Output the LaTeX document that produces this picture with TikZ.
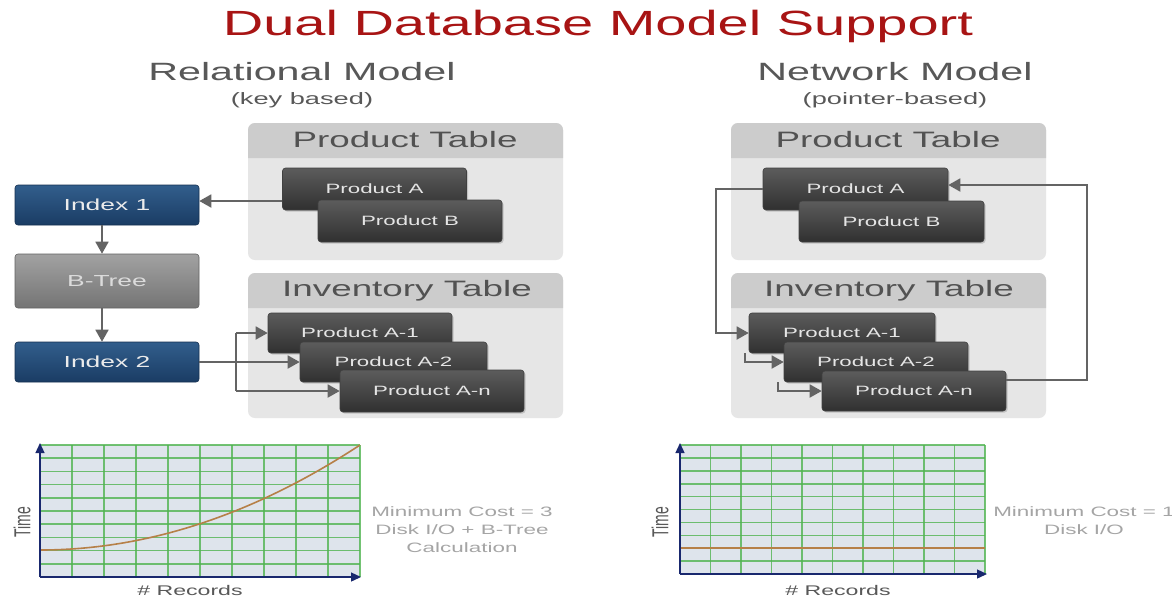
\documentclass[tikz,border=0pt]{standalone}
\usepackage{fontspec}
\setmainfont{Liberation Sans}[FakeStretch=1.65]
\newfontfamily\plainsans{Liberation Sans}
\usepackage{graphicx}
\usetikzlibrary{arrows.meta,shadows,calc}

\definecolor{titlered}{RGB}{168,20,20}
\definecolor{subgray}{RGB}{88,88,88}
\definecolor{hdrgray}{RGB}{204,204,204}
\definecolor{panelgray}{RGB}{230,230,230}
\definecolor{hdrtext}{RGB}{82,82,82}
\definecolor{boxtop}{RGB}{92,92,92}
\definecolor{boxbot}{RGB}{48,48,48}
\definecolor{idxtop}{RGB}{50,94,140}
\definecolor{idxbot}{RGB}{26,60,100}
\definecolor{btop}{RGB}{162,162,162}
\definecolor{bbot}{RGB}{116,116,116}
\definecolor{wire}{RGB}{100,100,100}
\definecolor{chartbg}{RGB}{222,228,236}
\definecolor{gridgreen}{RGB}{80,180,80}
\definecolor{axisnavy}{RGB}{25,40,110}
\definecolor{curvebrown}{RGB}{182,128,72}
\definecolor{notegray}{RGB}{165,165,165}

\newcommand\fsz[1]{\fontsize{#1}{#1}\selectfont}

\tikzset{
  record/.style={rectangle, rounded corners=3pt, minimum width=184pt,
    minimum height=40pt, inner sep=0pt, top color=boxtop, bottom color=boxbot,
    draw=black!75, line width=0.6pt, text=white!90!black, font=\fsz{13.5},
    drop shadow={opacity=0.35, shadow xshift=1.5pt, shadow yshift=-1.5pt}},
  indexbox/.style={rectangle, rounded corners=3pt, minimum width=184pt,
    minimum height=40pt, inner sep=0pt, top color=idxtop, bottom color=idxbot,
    draw=idxbot!80!black, line width=0.6pt, text=white!92!black, font=\fsz{16}},
  treebox/.style={indexbox, minimum height=54pt, top color=btop, bottom color=bbot,
    draw=bbot!85!black, text=white!86!black},
  hdrlabel/.style={text=hdrtext, font=\fsz{22.3}, inner sep=0pt},
  conn/.style={draw=wire, line width=1.8pt},
  arr/.style={conn, -{Triangle[length=12pt,width=13pt]}},
  gridline/.style={draw=gridgreen, line width=1.6pt, opacity=0.8},
  axisline/.style={draw=axisnavy, line width=1.3pt, -{Triangle[length=10pt,width=9pt]}},
  costcurve/.style={draw=curvebrown, line width=1.6pt},
  note/.style={text=notegray, font=\fsz{13.6}, align=center, inner sep=0pt},
  axislabel/.style={text=subgray, font=\fsz{14}, inner sep=0pt},
}

\begin{document}
\begin{tikzpicture}[x=1pt, y=-1pt]
\useasboundingbox (0,0) rectangle (1172,598);
\clip (0,0) rectangle (1172,598);
\fill[white] (0,0) rectangle (1172,598);

% ---------- headings ----------
\node[text=titlered, font=\fsz{35}] (title) at (598,26) {\addfontfeature{FakeStretch=1.6}Dual Database Model Support};
\node[text=subgray, font=\fsz{25}] (relhead) at (302,72) {Relational Model};
\node[text=subgray, font=\fsz{16.5}] (relsub) at (302,100) {(key based)};
\node[text=subgray, font=\fsz{25}] (nethead) at (895,72) {Network Model};
\node[text=subgray, font=\fsz{16.5}] (netsub) at (895,100) {(pointer-based)};

% ---------- table panels ----------
\foreach \px/\py/\pb/\hb in {248/123/260/158, 248/273/418/308, 731/123/260/158, 731/273/418/308}{
  \fill[panelgray, rounded corners=7pt] (\px,\py) rectangle ({\px+315},\pb);
  \fill[hdrgray] (\px,\hb) [rounded corners=7pt] -- (\px,\py) -- ({\px+315},\py)
    [sharp corners] -- ({\px+315},\hb) -- cycle;
}
\node[hdrlabel] (lprodhdr) at (405,140) {Product Table};
\node[hdrlabel] (linvhdr) at (407,291) {Inventory Table};
\node[hdrlabel] (rprodhdr) at (888,140) {Product Table};
\node[hdrlabel] (rinvhdr) at (889,291) {Inventory Table};

% ---------- relational side ----------
\node[indexbox] (idx1) at (107,205) {Index 1};
\node[treebox] (btree) at (107,281) {B-Tree};
\node[indexbox] (idx2) at (107,362) {Index 2};

\node[record, minimum height=42pt] (lpa) at (374.5,189) {Product A};
\node[record, minimum height=42pt] (lpb) at (410,221) {Product B};
\node[record] (la1) at (360,333) {Product A-1};
\node[record, minimum width=187pt] (la2) at (393.5,362) {Product A-2};
\node[record, minimum height=42pt] (lan) at (432,391) {Product A-n};

\draw[arr] ([yshift=-12pt]lpa.west) -- ([yshift=-12pt]lpa.west -| idx1.east);
\draw[arr] ([xshift=-5pt]idx1.south) -- ([xshift=-5pt]btree.north);
\draw[arr] ([xshift=-5pt]btree.south) -- ([xshift=-5pt]idx2.north);
\coordinate (lsplit) at (236,362);
\draw[arr] (idx2.east) -- (la2.west);
\draw[conn] (lsplit) -- (236,333);
\draw[conn] (lsplit) -- (236,391);
\draw[arr] (236,333) -- (la1.west);
\draw[arr] (236,391) -- (lan.west);

% ---------- network side ----------
\node[record, minimum width=185pt, minimum height=42pt] (rpa) at (855.5,189) {Product A};
\node[record, minimum width=185pt, minimum height=41pt] (rpb) at (891.5,221.5) {Product B};
\node[record, minimum width=186pt] (ra1) at (842,333) {Product A-1};
\node[record] (ra2) at (876,362) {Product A-2};
\node[record] (ran) at (914,391) {Product A-n};

\coordinate (rleft) at (716,189);
\coordinate (rright) at (1087,380);
\draw[arr] (rpa.west) -- (rleft) |- (ra1.west);
\draw[arr] ([xshift=-4pt]ra1.south west) |- (ra2.west);
\draw[arr] ([xshift=-6pt]ra2.south west) |- (ran.west);
\draw[arr] ([yshift=11pt]ran.east) -- (rright) |- ([yshift=4pt]rpa.east);

% ---------- left cost chart ----------
\fill[chartbg] (40,445) rectangle (360,577);
\foreach \i in {1,...,10} \draw[gridline] ({40+32*\i},445) -- ({40+32*\i},577);
\foreach \j in {0,...,9} \draw[gridline] (40,{445+13.2*\j}) -- (360,{445+13.2*\j});
\draw[costcurve] (40,550) .. controls (146.7,550) and (253.3,515) .. (360,445);
\draw[axisline] (40,577) -- (40,443);
\draw[axisline] (40,577) -- (361,577);
\node[axislabel, rotate=90] (ltime) at (22,522) {\scalebox{1}[1.65]{\plainsans\fsz{14}Time}};
\node[axislabel] (lrec) at (190,590) {\# Records};
\node[note] (lnote) at (462,530) {Minimum Cost = 3\\[4.5pt]Disk I/O + B-Tree\\[4.5pt]Calculation};

% ---------- right cost chart ----------
\fill[chartbg] (680,445) rectangle (985,574);
\foreach \i in {1,...,10} \draw[gridline] ({680+30.5*\i},445) -- ({680+30.5*\i},574);
\foreach \j in {0,...,9} \draw[gridline] (680,{445+12.9*\j}) -- (985,{445+12.9*\j});
\draw[costcurve] (680,548) -- (985,548);
\draw[axisline] (680,574) -- (680,443);
\draw[axisline] (680,574) -- (987,574);
\node[axislabel, rotate=90] (rtime) at (660,522) {\scalebox{1}[1.65]{\plainsans\fsz{14}Time}};
\node[axislabel] (rrec) at (838,590) {\# Records};
\node[note] (rnote) at (1084,521) {Minimum Cost = 1\\[4.5pt]Disk I/O};
\end{tikzpicture}
\end{document}
